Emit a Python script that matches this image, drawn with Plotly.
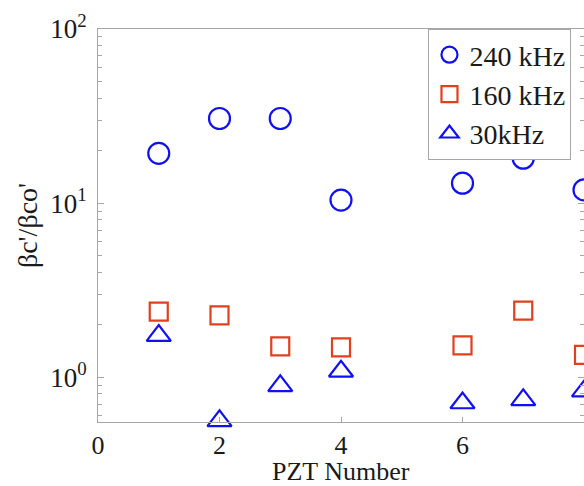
import plotly.graph_objects as go

# PZT sensor index and coefficient ratio for each excitation frequency
pzt_240 = [1, 2, 3, 4, 6, 7, 8]
ratio_240 = [19.3, 30.6, 30.6, 10.4, 13.0, 18.1, 11.9]

pzt_160 = [1, 2, 3, 4, 6, 7, 8]
ratio_160 = [2.38, 2.26, 1.50, 1.48, 1.52, 2.41, 1.34]

pzt_30 = [1, 2, 3, 4, 6, 7, 8]
ratio_30 = [1.73, 0.56, 0.89, 1.08, 0.71, 0.74, 0.83]

x_ticks = [0, 2, 4, 6, 8]
y_ticks = [1, 10, 100]
y_ticktext = ["10<sup>0</sup>", "10<sup>1</sup>", "10<sup>2</sup>"]
y_minor = [m * 10 ** e for e in (-1, 0, 1) for m in range(2, 10)]

FONT = "Liberation Serif, Times New Roman, serif"
AXIS_GREY = "#a6a6a6"
BLUE = "#1010f0"
RED = "#e0401e"

fig = go.Figure()
fig.add_trace(go.Scatter(
    x=pzt_240, y=ratio_240, mode="markers", name="240 kHz",
    marker=dict(symbol="circle-open", size=21, color=BLUE, line=dict(width=2.2, color=BLUE)),
    cliponaxis=False,
))
fig.add_trace(go.Scatter(
    x=pzt_160, y=ratio_160, mode="markers", name="160 kHz",
    marker=dict(symbol="square-open", size=18, color=RED, line=dict(width=2.2, color=RED)),
    cliponaxis=False,
))
fig.add_trace(go.Scatter(
    x=pzt_30, y=ratio_30, mode="markers", name="30kHz",
    marker=dict(symbol="triangle-up-open", size=21, color=BLUE, line=dict(width=2.2, color=BLUE)),
    cliponaxis=False,
))

fig.update_layout(
    width=584, height=486,
    margin=dict(l=98, r=0, t=29, b=64),
    paper_bgcolor="white", plot_bgcolor="white",
    font=dict(family=FONT, size=27, color="#1a1a1a"),
    showlegend=True,
    legend=dict(
        x=0.68, y=1, xanchor="left", yanchor="top",
        bordercolor=AXIS_GREY, borderwidth=1, bgcolor="white",
        font=dict(family=FONT, size=28), tracegroupgap=0,
        entrywidth=190, entrywidthmode="pixels",
    ),
    xaxis=dict(
        range=[0, 8], tickvals=x_ticks, ticks="inside", ticklen=5,
        tickcolor=AXIS_GREY, showline=True, linecolor=AXIS_GREY, linewidth=1,
        mirror=True, showgrid=False, zeroline=False, automargin=False,
        tickfont=dict(family=FONT, size=26),
    ),
    yaxis=dict(
        type="log", range=[-0.258, 2], tickvals=y_ticks, ticktext=y_ticktext,
        ticks="inside", ticklen=6, tickcolor=AXIS_GREY,
        showline=True, linecolor=AXIS_GREY, linewidth=1, mirror="ticks",
        showgrid=False, zeroline=False, ticklabelstandoff=5, automargin=False,
        minor=dict(tickvals=y_minor, ticks="inside", ticklen=4, tickcolor=AXIS_GREY),
        title=dict(text="βc'/βco'", font=dict(family=FONT, size=28), standoff=4),
        tickfont=dict(family=FONT, size=27),
    ),
    annotations=[dict(
        text="PZT Number", xref="paper", yref="paper", x=0.5, y=-0.125,
        xanchor="center", yanchor="middle", showarrow=False, borderpad=0,
        font=dict(family=FONT, size=26),
    )],
)

fig.write_html("out.html")
